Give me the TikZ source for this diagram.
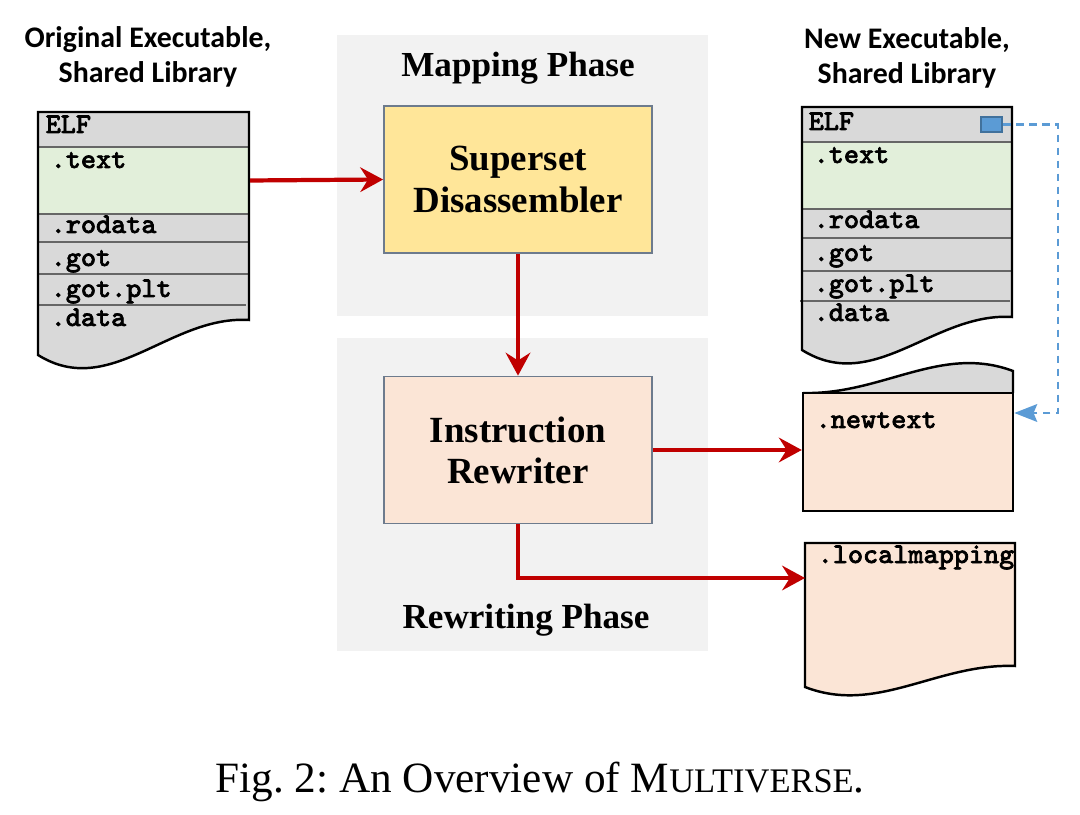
\documentclass[tikz,border=0pt]{standalone}
\usepackage{fontspec}
\setmainfont{Liberation Serif}
\newfontfamily\headfont{Carlito}
\newfontfamily\secfont[FakeBold=2.5]{Latin Modern Mono}
\usetikzlibrary{arrows.meta}
\definecolor{docgray}{HTML}{D9D9D9}
\definecolor{textgreen}{HTML}{E2EFDA}
\definecolor{peach}{HTML}{FBE5D6}
\definecolor{sdyellow}{HTML}{FFE699}
\definecolor{phasebg}{HTML}{F2F2F2}
\definecolor{arrowred}{HTML}{C00000}
\definecolor{markblue}{HTML}{5B9BD5}
\definecolor{markborder}{HTML}{41719C}
\definecolor{boxborder}{HTML}{6D7B8D}
\definecolor{sepgray}{HTML}{666666}
\frenchspacing
\begin{document}
\begin{tikzpicture}[
  sect/.style={anchor=base west, inner sep=0pt, font=\secfont\fontsize{8.1}{9}\selectfont},
  phase/.style={anchor=base, inner sep=0pt, font=\bfseries\fontsize{10}{12}\selectfont},
  stage/.style={draw=boxborder, line width=0.5pt, minimum width=2.68cm, minimum height=1.47cm, align=center, font=\bfseries\fontsize{10.5}{11.7}\selectfont},
  textsec/.style={draw=sepgray, fill=textgreen, line width=0.6pt, minimum width=2.1cm, minimum height=0.67cm, inner sep=0pt},
  flow/.style={draw=arrowred, line width=1.2pt, -{Stealth[length=6.5pt,width=7pt,inset=2.2pt]}},
  link/.style={draw=markblue, line width=0.8pt, dash pattern=on 2.2pt off 1.5pt, -{Stealth[length=6.5pt,width=5pt,inset=1pt]}},
  sep/.style={draw=sepgray, line width=0.6pt},
  outline/.style={draw=black, line width=0.7pt},
  head/.style={align=center, inner sep=0pt, font=\headfont\bfseries\fontsize{8.5}{10}\selectfont}
]
\useasboundingbox (0,0) rectangle (10.8,8.14);

% Phases
\fill[phasebg] (3.37,4.98) rectangle (7.08,7.79);
\fill[phasebg] (3.37,1.63) rectangle (7.08,4.76);
\node[phase] (mapttl) at (5.18,7.37) {Mapping Phase};
\node[phase] (rewttl) at (5.26,1.86) {Rewriting Phase};

% Stages
\node[stage, fill=sdyellow] (sd) at (5.18,6.345) {Superset\\Disassembler};
\node[stage, fill=peach] (ir) at (5.18,3.64) {Instruction\\Rewriter};

% Original executable
\node[head] (orighead) at (1.48,7.575) {Original Executable,\\Shared Library};
\fill[docgray] (0.38,7.02) -- (2.49,7.02) -- (2.49,4.94) .. controls (1.70,4.99) and (1.10,4.14) .. (0.38,4.59) -- cycle;
\node[textsec, minimum width=2.11cm] (origtext) at (1.435,6.335) {};
\draw[sep] (0.38,5.72) -- (2.49,5.72);
\draw[sep] (0.38,5.40) -- (2.49,5.40);
\draw[sep] (0.37,5.09) -- (2.46,5.09);
\draw[outline] (0.38,7.02) -- (2.49,7.02) -- (2.49,4.94) .. controls (1.70,4.99) and (1.10,4.14) .. (0.38,4.59) -- cycle;
\node[sect] (origelf) at (0.45,6.81) {ELF};
\node[sect] (origtextlbl) at (0.50,6.46) {.text};
\node[sect] (origrodata) at (0.50,5.81) {.rodata};
\node[sect] (origgot) at (0.50,5.48) {.got};
\node[sect] (origgotplt) at (0.50,5.17) {.got.plt};
\node[sect] (origdata) at (0.50,4.88) {.data};

% New executable
\node[head] (newhead) at (9.07,7.56) {New Executable,\\Shared Library};
\fill[docgray] (8.02,7.07) -- (10.12,7.07) -- (10.12,4.97) .. controls (9.34,5.02) and (8.74,4.19) .. (8.02,4.64) -- cycle;
\node[textsec] (newtextsec) at (9.07,6.385) {};
\draw[sep] (8.02,5.76) -- (10.12,5.76);
\draw[sep] (8.02,5.43) -- (10.12,5.43);
\draw[sep] (8.00,5.13) -- (10.10,5.13);
\draw[outline] (8.02,7.07) -- (10.12,7.07) -- (10.12,4.97) .. controls (9.34,5.02) and (8.74,4.19) .. (8.02,4.64) -- cycle;
\node[draw=markborder, fill=markblue, line width=0.6pt, minimum width=0.21cm, minimum height=0.15cm, inner sep=0pt] (newmark) at (9.915,6.895) {};
\node[sect] (newelf) at (8.08,6.84) {ELF};
\node[sect] (newtextlbl) at (8.13,6.51) {.text};
\node[sect] (newrodata) at (8.13,5.86) {.rodata};
\node[sect] (newgot) at (8.13,5.53) {.got};
\node[sect] (newgotplt) at (8.13,5.22) {.got.plt};
\node[sect] (newdata) at (8.13,4.93) {.data};

% .newtext
\fill[docgray] (8.03,4.21) .. controls (8.82,4.19) and (9.41,4.70) .. (10.13,4.43) -- (10.13,4.21) -- cycle;
\draw[outline] (8.03,4.21) .. controls (8.82,4.19) and (9.41,4.70) .. (10.13,4.43) -- (10.13,4.21);
\node[draw=black, fill=peach, line width=0.7pt, minimum width=2.10cm, minimum height=1.18cm, inner sep=0pt] (newtext) at (9.08,3.62) {};
\node[sect] (newtextname) at (8.15,3.86) {.newtext};

% .localmapping
\draw[outline, fill=peach] (8.05,2.71) -- (10.15,2.71) -- (10.15,1.48) .. controls (9.37,1.51) and (8.77,0.99) .. (8.05,1.27) -- cycle;
\node[sect] (lmap) at (8.17,2.51) {.localmapping};
\coordinate (lmapin) at (8.05,2.36);

% Arrows
\draw[flow] (origtext.east) -- (sd.west);
\draw[flow] (sd.south) -- (ir.north);
\draw[flow] (ir.east) -- (ir.east -| newtext.west);
\draw[flow] (ir.south) |- (lmapin);
\draw[link] (newmark.east) -- ++(0.55,0) |- ([yshift=3.9mm]newtext.east);

% Caption
\node[inner sep=0pt, anchor=base, font=\fontsize{12.3}{14}\selectfont] (caption) at (5.40,0.22) {Fig. 2: An Overview of M{\fontsize{9.8}{12}\selectfont ULTIVERSE}.};

\end{tikzpicture}
\end{document}
